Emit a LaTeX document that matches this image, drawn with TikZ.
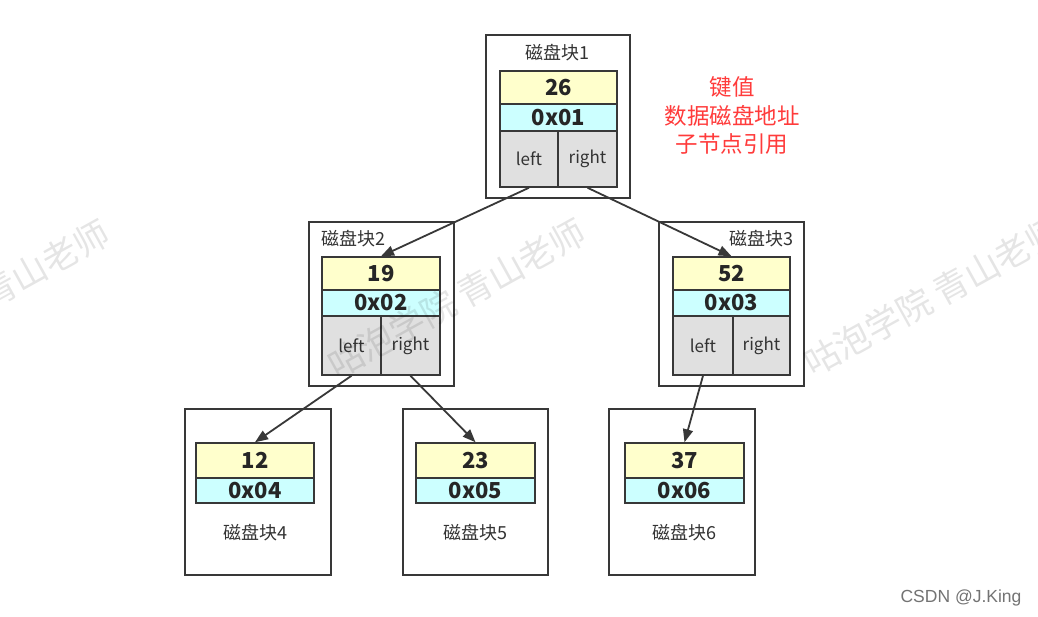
\documentclass[tikz,border=0pt]{standalone}
\usepackage{fontspec}
\setmainfont{Noto Sans CJK SC}
\newfontfamily\csdnfont{Liberation Sans}
\usetikzlibrary{arrows.meta}
\definecolor{keyc}{HTML}{FFFFCC}
\definecolor{addrc}{HTML}{CCFFFF}
\definecolor{cellc}{HTML}{E0E0E0}
\definecolor{linec}{HTML}{383838}
\definecolor{redc}{HTML}{FF3B3B}
\tikzset{
  outerbox/.style={draw=linec, line width=1.5pt, fill=white, inner sep=0pt},
  keybox/.style={draw=linec, line width=1.5pt, fill=keyc, inner sep=0pt, minimum width=118pt, minimum height=33pt, font=\fontsize{22}{26}\selectfont\bfseries, text=black!85},
  addrbox/.style={draw=linec, line width=1.5pt, fill=addrc, inner sep=0pt, minimum width=118pt, minimum height=26pt, font=\fontsize{22}{26}\selectfont\bfseries, text=black!85},
  cellbox/.style={draw=linec, line width=1.5pt, fill=cellc, inner sep=0pt, minimum width=59pt, minimum height=57pt, font=\fontsize{17}{20}\selectfont, text=black!80},
  blabel/.style={font=\fontsize{18}{21}\selectfont, text=black!80, inner sep=0pt},
  redtext/.style={font=\fontsize{22.5}{26}\selectfont, text=redc, inner sep=0pt},
  ptr/.style={draw=linec, line width=1.8pt, -{Triangle[length=13pt,width=10pt]}},
  wm/.style={font=\fontsize{35}{40}\selectfont, text=black, text opacity=0.1, rotate=29, inner sep=0pt, anchor=base west}
}
\begin{document}
\begin{tikzpicture}[x=1pt,y=-1pt]
\useasboundingbox (0,0) rectangle (1038,617);
\fill[white] (0,0) rectangle (1038,617);

% block 1
\node[outerbox, minimum width=144pt, minimum height=163pt] (o1) at (558,116.5) {};
\node[blabel] (l1) at (557.5,53) {磁盘块1};
\node[keybox, minimum width=117pt] (k1) at (558.5,87.5) {26};
\node[addrbox, minimum width=117pt, minimum height=27pt] (a1) at (558.5,117.5) {0x01};
\node[cellbox, minimum width=58pt, minimum height=56pt] (c1l) at (529,159) {left};
\node[cellbox, minimum width=59pt, minimum height=56pt] (c1r) at (587.5,159) {right};

% block 2
\node[outerbox, minimum width=145pt, minimum height=164pt] (o2) at (381.5,304) {};
\node[blabel] (l2) at (353,239) {磁盘块2};
\node[keybox] (k2) at (381,273.5) {19};
\node[addrbox] (a2) at (381,303) {0x02};
\node[cellbox, minimum height=59pt] (c2l) at (351.5,345.5) {left};
\node[cellbox, minimum height=59pt] (c2r) at (410.5,345.5) {right};

% block 3
\node[outerbox, minimum width=145pt, minimum height=164pt] (o3) at (731.5,304) {};
\node[blabel] (l3) at (761.5,239) {磁盘块3};
\node[keybox, minimum width=117pt] (k3) at (731.5,273.5) {52};
\node[addrbox, minimum width=117pt] (a3) at (731.5,303) {0x03};
\node[cellbox, minimum width=60pt, minimum height=59pt] (c3l) at (703,345.5) {left};
\node[cellbox, minimum width=57pt, minimum height=59pt] (c3r) at (761.5,345.5) {right};

% block 4
\node[outerbox, minimum width=146pt, minimum height=166pt] (o4) at (258,492) {};
\node[keybox, minimum height=35pt] (k4) at (255,460.5) {12};
\node[addrbox, minimum height=25pt] (a4) at (255,490.5) {0x04};
\node[blabel] (l4) at (255.5,533) {磁盘块4};

% block 5
\node[outerbox, minimum width=145pt, minimum height=166pt] (o5) at (475.5,492) {};
\node[keybox, minimum width=119pt, minimum height=35pt] (k5) at (475.5,460.5) {23};
\node[addrbox, minimum width=119pt, minimum height=25pt] (a5) at (475.5,490.5) {0x05};
\node[blabel] (l5) at (475.5,533) {磁盘块5};

% block 6
\node[outerbox, minimum width=146pt, minimum height=166pt] (o6) at (682,492) {};
\node[keybox, minimum width=119pt, minimum height=35pt] (k6) at (684.5,460.5) {37};
\node[addrbox, minimum width=119pt, minimum height=25pt] (a6) at (684.5,490.5) {0x06};
\node[blabel] (l6) at (684.5,533) {磁盘块6};

% legend
\node[redtext] (t1) at (732,87) {键值};
\node[redtext] (t2) at (732,116) {数据磁盘地址};
\node[redtext] (t3) at (732,144) {子节点引用};

% pointers
\draw[ptr] (c1l.south) -- (k2.north);
\draw[ptr] (c1r.south) -- (k3.north);
\draw[ptr] (c2l.south) -- (k4.north);
\draw[ptr] (c2r.south) -- (k5.north);
\draw[ptr] (c3l.south) -- (k6.north);

% watermarks
\node[wm] (wm1) at (-10,310) {青山老师};
\node[wm] (wm2) at (337,380) {咕泡学院 青山老师};
\node[wm] (wm3) at (813,378) {咕泡学院 青山老师};

% credit
\node[font=\csdnfont\fontsize{17.5}{20}\selectfont, text=black!55, inner sep=0pt] (cr) at (961,598) {CSDN @J.King};
\end{tikzpicture}
\end{document}
